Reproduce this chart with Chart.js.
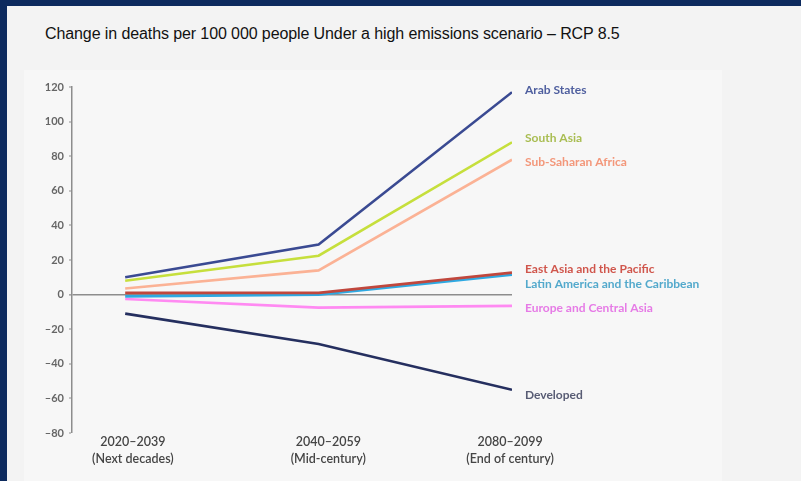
<!DOCTYPE html>
<html>
<head>
<meta charset="utf-8">
<script src="https://cdn.jsdelivr.net/npm/chart.js@4.4.1/dist/chart.umd.min.js"></script>
<style>
  html, body { margin: 0; padding: 0; }
  body { width: 801px; height: 481px; background: #0d2a5e; position: relative; overflow: hidden; }
  .sheet { position: absolute; left: 7px; top: 6px; right: 0; bottom: 0; background: #f3f3f3; }
  .title { position: absolute; left: 45px; top: 25px; font-family: "Liberation Sans", Arial, sans-serif;
           font-size: 16px; color: #111; white-space: nowrap; letter-spacing: -0.1px; }
  .panel { position: absolute; left: 24px; top: 70px; width: 698px; height: 411px; background: #f7f7f7; }
  canvas { position: absolute; left: 24px; top: 70px; }
</style>
</head>
<body>
<div class="sheet"></div>
<div class="title">Change in deaths per 100 000 people Under a high emissions scenario – RCP 8.5</div>
<div class="panel"></div>
<canvas id="chart" width="698" height="411"></canvas>
<script>
// Periods and their descriptions (x axis)
const periods = ['2020–2039', '2040–2059', '2080–2099'];
const periodNotes = ['(Next decades)', '(Mid-century)', '(End of century)'];

// Change in deaths per 100 000 people, by region
const regions = [
  'Arab States', 'South Asia', 'Sub-Saharan Africa', 'East Asia and the Pacific',
  'Latin America and the Caribbean', 'Europe and Central Asia', 'Developed'
];
const arabStates      = [10, 29, 117];
const southAsia       = [8, 22.5, 88];
const subSaharan      = [3.5, 14, 78];
const eastAsiaPacific = [1, 1, 12.7];
const latinAmerica    = [-1, 0, 11.5];
const europeCentral   = [-2.5, -7.5, -6.5];
const developed       = [-11, -28.5, -55];

// Y axis ticks
const yTicks = [120, 100, 80, 60, 40, 20, 0, -20, -40, -60, -80];

const series = [arabStates, southAsia, subSaharan, eastAsiaPacific, latinAmerica, europeCentral, developed];
const lineColors  = ['#3a4a92', '#c6df3c', '#fbb295', '#c0473d', '#2ea9e2', '#ff8af2', '#252f5f'];
const labelColors = ['#4f5f9f', '#a9bd52', '#f3977a', '#d0564c', '#53a9cc', '#e67be6', '#585c74'];
const labelShift  = [-2, -4, 2, -4, 9, 2, 5];
// Period captions sit slightly off the data columns
const captionNudge = [0.04, 0.05, -0.01];

const endLabels = {
  id: 'endLabels',
  afterDatasetsDraw(chart) {
    const ctx = chart.ctx;
    ctx.save();
    ctx.font = 'bold 12px Lato, "Open Sans", sans-serif';
    ctx.textAlign = 'left';
    ctx.textBaseline = 'middle';
    chart.data.datasets.forEach((ds, i) => {
      const pts = chart.getDatasetMeta(i).data;
      const last = pts[pts.length - 1];
      ctx.fillStyle = ds.labelColor;
      ctx.fillText(ds.label, last.x + 13, last.y + ds.labelShift);
    });
    ctx.restore();
  }
};

const fmt = v => (v < 0 ? '–' + Math.abs(v) : String(v));

new Chart(document.getElementById('chart'), {
  type: 'line',
  data: {
    datasets: series.map((vals, i) => ({
      label: regions[i],
      data: vals.map((v, j) => ({ x: j, y: v })),
      borderColor: lineColors[i],
      borderWidth: 2.6,
      pointRadius: 0,
      fill: false,
      tension: 0,
      labelColor: labelColors[i],
      labelShift: labelShift[i]
    }))
  },
  options: {
    responsive: false,
    animation: false,
    devicePixelRatio: 1,
    layout: { padding: { left: 0, right: 210, top: 17, bottom: 0 } },
    plugins: { legend: { display: false }, tooltip: { enabled: false }, title: { display: false } },
    scales: {
      x: {
        type: 'linear',
        min: -0.275,
        max: 2,
        afterBuildTicks: s => { s.ticks = periods.map((p, i) => ({ value: i + captionNudge[i] })); },
        afterFit: s => { s.height = 48; },
        grid: { display: false, drawTicks: false },
        border: { display: false },
        ticks: {
          padding: 1,
          maxRotation: 0,
          autoSkip: false,
          color: '#454545',
          font: { family: 'Lato, "Open Sans", sans-serif', size: 12.5, weight: '600', lineHeight: 1.35 },
          callback: (v, i) => [periods[i], periodNotes[i]]
        }
      },
      y: {
        min: -80,
        max: 120,
        afterBuildTicks: s => { s.ticks = yTicks.map(v => ({ value: v })); },
        afterFit: s => { s.width = 48; },
        grid: {
          color: c => (c.tick && c.tick.value === 0 ? '#8d8d8d' : 'rgba(0,0,0,0)'),
          lineWidth: c => (c.tick && c.tick.value === 0 ? 1.6 : 0),
          tickColor: '#8d8d8d',
          tickWidth: 1.2,
          tickLength: 3
        },
        border: { color: '#8d8d8d', width: 1.5 },
        ticks: {
          padding: 5,
          color: '#666',
          font: { family: 'Lato, "Open Sans", sans-serif', size: 11, weight: 'bold' },
          callback: v => fmt(v)
        }
      }
    }
  },
  plugins: [endLabels]
});
</script>
</body>
</html>
